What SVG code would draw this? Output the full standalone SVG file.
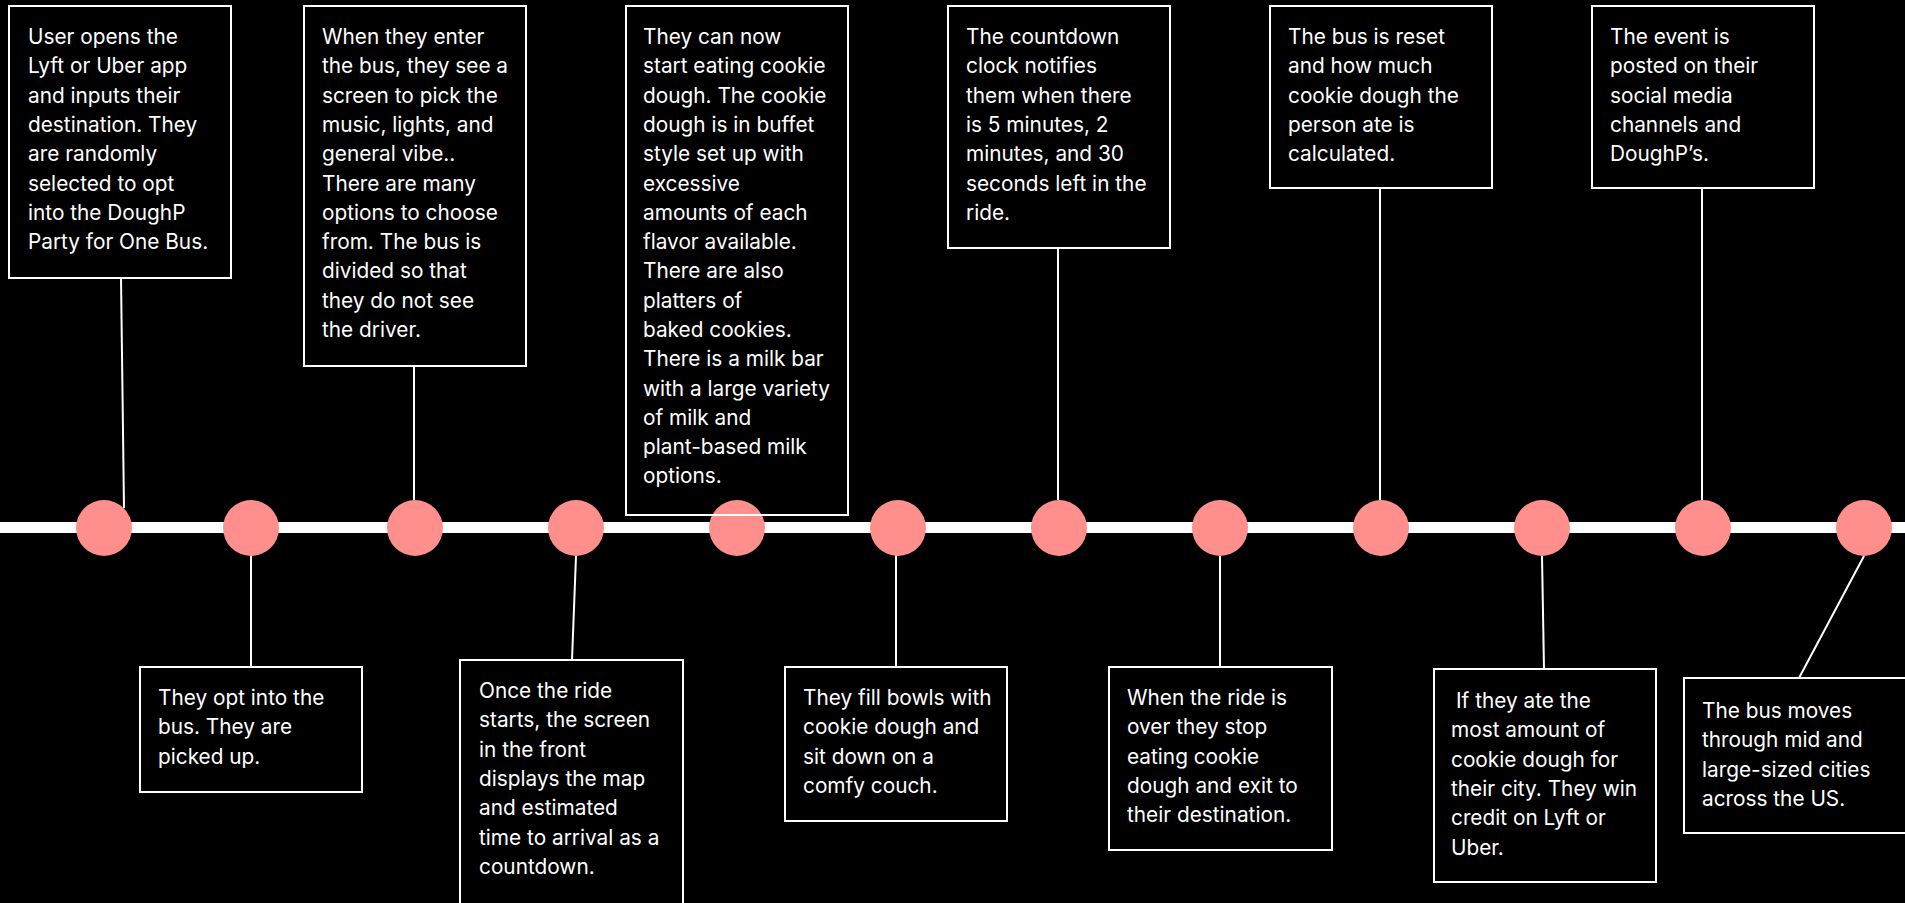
<svg xmlns="http://www.w3.org/2000/svg" width="1905" height="903" viewBox="0 0 1905 903">
<style>
.box{fill:none;stroke:#ffffff;stroke-width:2}
.t{font-family:Inter,"Open Sans","Liberation Sans",sans-serif;font-size:20.8px;fill:#ffffff}
.con{stroke:#ffffff;stroke-width:2;fill:none}
.dot{fill:#FF8F8D}
</style>
<rect x="0" y="0" width="1905" height="903" fill="#000000"/>
<g id="timeline">
<rect x="0" y="522" width="1905" height="11" fill="#ffffff"/>
</g>
<g id="connectors">
<line class="con" x1="121" y1="278" x2="124" y2="508"/>
<line class="con" x1="414" y1="366" x2="414" y2="500"/>
<line class="con" x1="1058" y1="248" x2="1058" y2="500"/>
<line class="con" x1="1380" y1="188" x2="1380" y2="500"/>
<line class="con" x1="1702" y1="188" x2="1702" y2="500"/>
<line class="con" x1="251" y1="556" x2="251" y2="667"/>
<line class="con" x1="576" y1="556" x2="572" y2="660"/>
<line class="con" x1="896" y1="549" x2="896" y2="667"/>
<line class="con" x1="1220" y1="556" x2="1220" y2="667"/>
<line class="con" x1="1542" y1="556" x2="1544" y2="669"/>
<line class="con" x1="1864" y1="556" x2="1799" y2="678"/>
</g>
<g id="markers">
<circle id="m1" class="dot" cx="104" cy="528" r="28"/>
<circle id="m2" class="dot" cx="251" cy="528" r="28"/>
<circle id="m3" class="dot" cx="415" cy="528" r="28"/>
<circle id="m4" class="dot" cx="576" cy="528" r="28"/>
<circle id="m5" class="dot" cx="737" cy="528" r="28"/>
<circle id="m6" class="dot" cx="898" cy="528" r="28"/>
<circle id="m7" class="dot" cx="1059" cy="528" r="28"/>
<circle id="m8" class="dot" cx="1220" cy="528" r="28"/>
<circle id="m9" class="dot" cx="1381" cy="528" r="28"/>
<circle id="m10" class="dot" cx="1542" cy="528" r="28"/>
<circle id="m11" class="dot" cx="1703" cy="528" r="28"/>
<circle id="m12" class="dot" cx="1864" cy="528" r="28"/>
</g>
<g id="step1">
<rect class="box" x="9" y="6" width="222" height="272"/>
<text class="t" x="28" y="44"><tspan x="28" dy="0">User opens the</tspan><tspan x="28" dy="29.3">Lyft or Uber app</tspan><tspan x="28" dy="29.3">and inputs their</tspan><tspan x="28" dy="29.3">destination. They</tspan><tspan x="28" dy="29.3">are randomly</tspan><tspan x="28" dy="29.3">selected to opt</tspan><tspan x="28" dy="29.3">into the DoughP</tspan><tspan x="28" dy="29.3">Party for One Bus.</tspan></text>
</g>
<g id="step2">
<rect class="box" x="140" y="667" width="222" height="125"/>
<text class="t" x="158" y="705"><tspan x="158" dy="0">They opt into the</tspan><tspan x="158" dy="29.3">bus. They are</tspan><tspan x="158" dy="29.3">picked up.</tspan></text>
</g>
<g id="step3">
<rect class="box" x="304" y="6" width="222" height="360"/>
<text class="t" x="322" y="44"><tspan x="322" dy="0">When they enter</tspan><tspan x="322" dy="29.3">the bus, they see a</tspan><tspan x="322" dy="29.3">screen to pick the</tspan><tspan x="322" dy="29.3">music, lights, and</tspan><tspan x="322" dy="29.3">general vibe..</tspan><tspan x="322" dy="29.3">There are many</tspan><tspan x="322" dy="29.3">options to choose</tspan><tspan x="322" dy="29.3">from. The bus is</tspan><tspan x="322" dy="29.3">divided so that</tspan><tspan x="322" dy="29.3">they do not see</tspan><tspan x="322" dy="29.3">the driver.</tspan></text>
</g>
<g id="step4">
<rect class="box" x="460" y="660" width="223" height="260"/>
<text class="t" x="479" y="698"><tspan x="479" dy="0">Once the ride</tspan><tspan x="479" dy="29.3">starts, the screen</tspan><tspan x="479" dy="29.3">in the front</tspan><tspan x="479" dy="29.3">displays the map</tspan><tspan x="479" dy="29.3">and estimated</tspan><tspan x="479" dy="29.3">time to arrival as a</tspan><tspan x="479" dy="29.3">countdown.</tspan></text>
</g>
<g id="step5">
<rect class="box" x="626" y="6" width="222" height="509"/>
<text class="t" x="643" y="44"><tspan x="643" dy="0">They can now</tspan><tspan x="643" dy="29.3">start eating cookie</tspan><tspan x="643" dy="29.3">dough. The cookie</tspan><tspan x="643" dy="29.3">dough is in buffet</tspan><tspan x="643" dy="29.3">style set up with</tspan><tspan x="643" dy="29.3">excessive</tspan><tspan x="643" dy="29.3">amounts of each</tspan><tspan x="643" dy="29.3">flavor available.</tspan><tspan x="643" dy="29.3">There are also</tspan><tspan x="643" dy="29.3">platters of</tspan><tspan x="643" dy="29.3">baked cookies.</tspan><tspan x="643" dy="29.3">There is a milk bar</tspan><tspan x="643" dy="29.3">with a large variety</tspan><tspan x="643" dy="29.3">of milk and</tspan><tspan x="643" dy="29.3">plant-based milk</tspan><tspan x="643" dy="29.3">options.</tspan></text>
</g>
<g id="step6">
<rect class="box" x="785" y="667" width="222" height="154"/>
<text class="t" x="803" y="705"><tspan x="803" dy="0">They fill bowls with</tspan><tspan x="803" dy="29.3">cookie dough and</tspan><tspan x="803" dy="29.3">sit down on a</tspan><tspan x="803" dy="29.3">comfy couch.</tspan></text>
</g>
<g id="step7">
<rect class="box" x="948" y="6" width="222" height="242"/>
<text class="t" x="966" y="44"><tspan x="966" dy="0">The countdown</tspan><tspan x="966" dy="29.3">clock notifies</tspan><tspan x="966" dy="29.3">them when there</tspan><tspan x="966" dy="29.3">is 5 minutes, 2</tspan><tspan x="966" dy="29.3">minutes, and 30</tspan><tspan x="966" dy="29.3">seconds left in the</tspan><tspan x="966" dy="29.3">ride.</tspan></text>
</g>
<g id="step8">
<rect class="box" x="1109" y="667" width="223" height="183"/>
<text class="t" x="1127" y="705"><tspan x="1127" dy="0">When the ride is</tspan><tspan x="1127" dy="29.3">over they stop</tspan><tspan x="1127" dy="29.3">eating cookie</tspan><tspan x="1127" dy="29.3">dough and exit to</tspan><tspan x="1127" dy="29.3">their destination.</tspan></text>
</g>
<g id="step9">
<rect class="box" x="1270" y="6" width="222" height="182"/>
<text class="t" x="1288" y="44"><tspan x="1288" dy="0">The bus is reset</tspan><tspan x="1288" dy="29.3">and how much</tspan><tspan x="1288" dy="29.3">cookie dough the</tspan><tspan x="1288" dy="29.3">person ate is</tspan><tspan x="1288" dy="29.3">calculated.</tspan></text>
</g>
<g id="step10">
<rect class="box" x="1434" y="669" width="222" height="213"/>
<text class="t" x="1451" y="708"><tspan x="1456" dy="0">If they ate the</tspan><tspan x="1451" dy="29.3">most amount of</tspan><tspan x="1451" dy="29.3">cookie dough for</tspan><tspan x="1451" dy="29.3">their city. They win</tspan><tspan x="1451" dy="29.3">credit on Lyft or</tspan><tspan x="1451" dy="29.3">Uber.</tspan></text>
</g>
<g id="step11">
<rect class="box" x="1592" y="6" width="222" height="182"/>
<text class="t" x="1610" y="44"><tspan x="1610" dy="0">The event is</tspan><tspan x="1610" dy="29.3">posted on their</tspan><tspan x="1610" dy="29.3">social media</tspan><tspan x="1610" dy="29.3">channels and</tspan><tspan x="1610" dy="29.3">DoughP’s.</tspan></text>
</g>
<g id="step12">
<rect class="box" x="1684" y="678" width="240" height="155"/>
<text class="t" x="1702" y="718"><tspan x="1702" dy="0">The bus moves</tspan><tspan x="1702" dy="29.3">through mid and</tspan><tspan x="1702" dy="29.3">large-sized cities</tspan><tspan x="1702" dy="29.3">across the US.</tspan></text>
</g>
</svg>
